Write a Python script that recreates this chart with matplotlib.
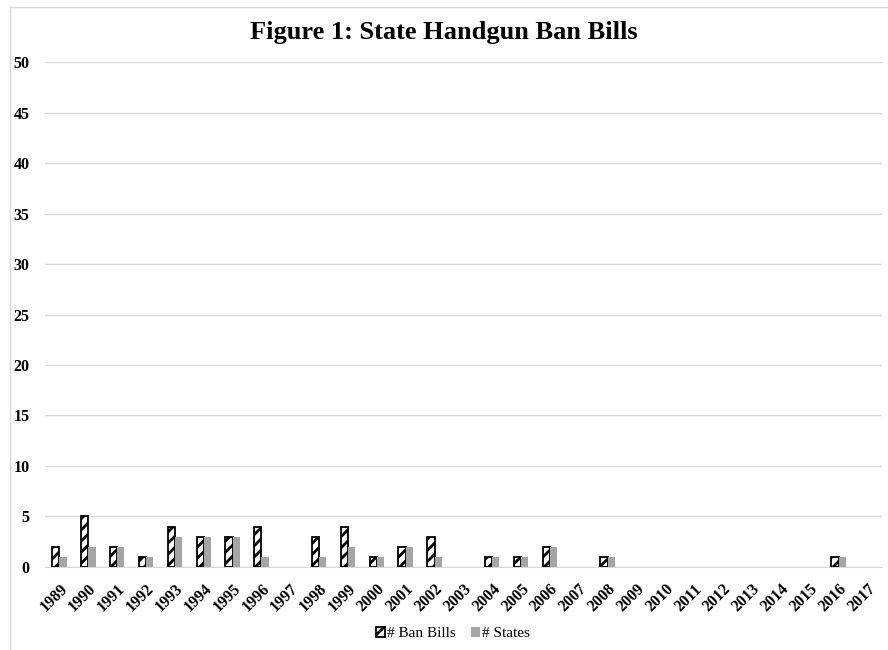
import matplotlib
matplotlib.use("Agg")
import matplotlib.pyplot as plt
import numpy as np

years = [str(y) for y in range(1989, 2018)]
ban_bills = [2, 5, 2, 1, 4, 3, 3, 4, 0, 3, 4, 1, 2, 3, 0, 1, 1, 2, 0, 1,
             0, 0, 0, 0, 0, 0, 0, 1, 0]
states = [1, 2, 2, 1, 3, 3, 3, 1, 0, 1, 2, 1, 2, 1, 0, 1, 1, 2, 0, 1,
          0, 0, 0, 0, 0, 0, 0, 1, 0]

plt.rcParams['font.family'] = ['Liberation Serif', 'DejaVu Serif']
plt.rcParams['hatch.linewidth'] = 2.0

fig = plt.figure(figsize=(8.88, 6.5), dpi=100)
ax = fig.add_axes([0.0507, 0.1277, 0.9423, 0.7769])

x = np.arange(len(years))
w = 0.25
bars = ax.bar(x - w / 2, ban_bills, w, color='white', edgecolor='black',
              hatch='///', linewidth=1.3, label='# Ban Bills', zorder=3)
# no outline for empty years
for b, v in zip(bars, ban_bills):
    if v == 0:
        b.set_visible(False)
ax.bar(x + w / 2, states, w, color='#a5a5a5', label='# States', zorder=3)

ax.set_xlim(-0.5, len(years) - 0.5)
ax.set_ylim(0, 50)
ax.set_yticks(range(0, 51, 5))
ax.yaxis.grid(True, color='#d9d9d9', linewidth=1)
ax.set_axisbelow(True)
for s in ['top', 'right', 'left']:
    ax.spines[s].set_visible(False)
ax.spines['bottom'].set_color('#d9d9d9')
ax.tick_params(length=0)
ax.set_xticks(x)
ax.set_xticklabels(years, rotation=45, ha='right', rotation_mode='anchor',
                   fontsize=11.5, fontweight='bold')
for lab in ax.get_yticklabels():
    lab.set_fontsize(11.5)
    lab.set_fontweight('bold')
ax.tick_params(axis='y', pad=11)
ax.tick_params(axis='x', pad=10)

fig.suptitle('Figure 1: State Handgun Ban Bills', y=0.968, fontsize=19,
             fontweight='bold')
fig.legend(loc='lower center', bbox_to_anchor=(0.51, -0.006), ncol=2,
           frameon=False, fontsize=11, handlelength=0.6, handleheight=0.6,
           handletextpad=0.1, columnspacing=1.0)

# outer chart frame
fig.add_artist(plt.Line2D([0.011, 0.011], [0, 0.99], color='#d9d9d9',
                          linewidth=1, transform=fig.transFigure))
fig.add_artist(plt.Line2D([0.011, 1.0], [0.99, 0.99], color='#d9d9d9',
                          linewidth=1, transform=fig.transFigure))

fig.savefig('out.png', dpi=100)
